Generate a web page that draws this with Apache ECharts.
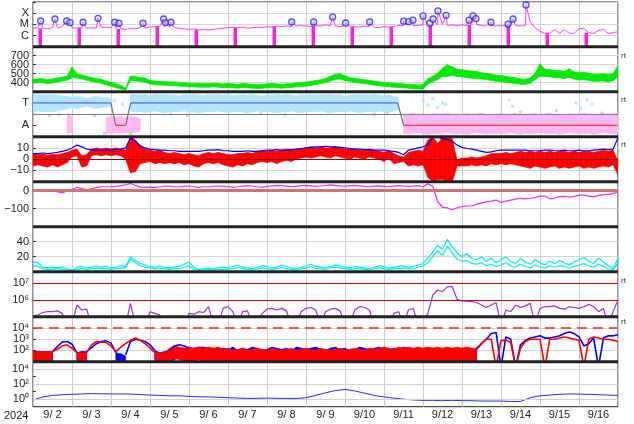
<!DOCTYPE html>
<html><head><meta charset="utf-8">
<script src="https://cdn.jsdelivr.net/npm/echarts@6/dist/echarts.min.js"></script>
<style>html,body{margin:0;padding:0;background:#fff}#c{width:634px;height:424px}</style>
</head><body><div id="c"></div><script>
const N = n => Array(n).fill(null);
// sampling times (hours since 2024-09-02 00UT)
const H3 = Array.from({length:121},(_,i)=>i*3);
const H6 = Array.from({length:61},(_,i)=>i*6);
const dayLabels = ['9/ 2','9/ 3','9/ 4','9/ 5','9/ 6','9/ 7','9/ 8','9/ 9','9/10','9/11','9/12','9/13','9/14','9/15','9/16'];

// Panel 1: X-ray flux (log10 W/m2), background every 3h
const xrayBgLog = [-5.35,-5.3,-5.35,-5.4,-5.3,-5.35,-5.2,-5.1,
-5.3,-5.35,-5.3,-5.35,-5.3,-5.35,-5.3,-5.25,
-5.3,-5.35,-5.4,-5.45,-5.35,-5.4,-5.3,-5.35,
-5.25,-5.2,-5.15,-5.2,-5.25,-5.3,-5.35,-5.4,
-5.45,-5.4,-5.5,-5.45,-5.5,-5.45,-5.4,-5.35,
-5.3,-5.25,-5.3,-5.25,-5.35,-5.3,-5.25,-5.3,
-5.2,-5.25,-5.15,-5.2,-5.15,-5.2,-5.15,-5.1,
-5.15,-5.2,-5.1,-5.15,-5.05,-5.1,-5.15,-5.2,
-5.1,-5.15,-5.2,-5.25,-5.15,-5.2,-5.25,-5.3,
-5.2,-5.25,-5.2,-5.1,-5.15,-5.05,-5.1,-5.1,
-5.05,-5.0,-5.1,-5.05,-5.0,-5.1,-5.05,-5.1,
-5.05,-5.1,-5.05,-5.0,-5.1,-5.15,-5.1,-5.15,
-5.1,-5.15,-5.05,-5.1,-5.15,-5.1,-4.8,-5.3,
-5.63,-5.8,-5.8,-5.45,-5.8,-5.45,-5.8,-5.8,
-5.4,-5.35,-5.75,-5.8,-5.55,-5.45,-5.8,-5.75,-5.65];
const flareHours = [4.7,13.5,20.7,22.8,30.8,40.0,50.3,52.9,67.7,80.4,81.5,84.9,159.2,172.7,184.4,192.4,207.2,228.1,231.2,233.8,240.0,244.1,246.2,249.2,254.2,268.3,270.8,272.6,281.8,292.3,295.4,303.4];
const flareLog = [-4.70,-4.52,-4.70,-4.85,-4.81,-4.46,-4.81,-4.90,-4.90,-4.52,-4.85,-4.81,-4.79,-4.79,-4.34,-4.88,-4.79,-4.72,-4.76,-4.63,-4.25,-4.90,-4.52,-3.80,-4.19,-4.63,-4.25,-4.49,-4.81,-4.99,-4.52,-3.27];
const eclipseHours = [4.5,28.5,52.5,76.5,100.5,124.5,148.5,172.5,196.5,220.5,244.5,268.5,292.5,316.5,340.5];

// Panel 2: solar wind speed envelope (km/s), 3h
const windLo = [393,400,400,388,398,408,418,428,455,452,443,428,413,403,393,376,360,343,330,318,
425,420,412,405,
385,380,375,372,368,368,362,360,355,355,350,350,350,355,350,
343,348,343,338,348,343,338,333,338,343,348,343,338,343,348,353,358,363,370,380,390,400,418,435,440,425,413,403,396,390,383,373,366,360,356,350,348,343,338,333,330,
330,385,410,435,470,470,480,470,465,455,450,445,440,435,425,415,410,405,398,390,382,382,395,435,470,470,465,455,455,445,460,440,430,435,425,415,415,420,410,420,470];
const windHi = [437,444,444,432,442,452,462,472,575,498,487,472,457,447,437,420,404,387,370,342,
475,470,458,451,
425,420,415,412,408,408,402,400,395,395,390,390,390,395,390,
387,392,387,382,392,387,382,377,382,387,392,387,382,387,392,397,402,407,414,424,434,444,472,495,500,475,457,447,440,434,427,417,410,404,400,394,392,387,382,377,374,
380,445,470,505,560,600,575,550,545,535,530,525,510,505,495,485,480,470,462,454,442,438,455,505,610,550,545,535,535,525,555,520,510,515,505,495,495,500,490,500,590];

// Panel 3: IMF sector (A=1, T=3)
const towardLo = [2.2,2.3,2.2,2.25,2.2,2.3,2.4,2.5, 2.6,2.5,2.6,2.7,2.6,2.5,2.6,2.6, 2.7, null,null,null,
2.3,2.2,2.25,2.15,2.2,2.3,2.2,2.1, 2.2,2.25,2.2,2.3,2.15,2.2,2.1,2.2, 2.25,2.2,2.3,2.2,2.15,2.2,2.25,2.2, 2.1,2.2,2.3,2.2,2.25,2.2,2.15,2.2, 2.2,2.3,2.2,2.15,2.2,2.25,2.2,2.3, 2.2,2.1,2.2,2.25,2.2,2.3,2.2,2.15, 2.2,2.25,2.2,2.3,2.2,2.2,2.3,2.4,
...N(45)];
const towardHi = [3.75,3.7,3.75,3.7,3.75,3.7,3.6,3.6, 3.5,3.6,3.5,3.4,3.5,3.6,3.5,3.5, 3.4, null,null,null,
3.7,3.75,3.7,3.75,3.65,3.75,3.7,3.75, 3.7,3.75,3.6,3.75,3.7,3.75,3.7,3.65, 3.75,3.7,3.75,3.7,3.75,3.65,3.7,3.75, 3.7,3.75,3.7,3.6,3.75,3.7,3.75,3.7, 3.75,3.7,3.65,3.75,3.7,3.75,3.7,3.75, 3.7,3.75,3.7,3.75,3.6,3.7,3.75,3.7, 3.75,3.7,3.75,3.7,3.65,3.7,3.6,3.5,
...N(45)];
const awayLo = [...N(7), 0.3,0.4, ...N(6), 0.3,0.3,0.4,0.3,0.35,0.3,0.4,0.5, ...N(53),
0.3,0.25,0.3,0.35,0.3,0.2,0.3,0.25,0.3,0.35, 0.3,0.25,0.3,0.2,0.3,0.35,0.3,0.25,0.3,0.3, 0.25,0.3,0.35,0.3,0.2,0.3,0.25,0.3,0.35,0.3, 0.25,0.3,0.2,0.3,0.35,0.3,0.25,0.3,0.3,0.2, 0.3,0.35,0.3,0.25,0.3];
const awayHi = [...N(7), 1.7,1.8, ...N(6), 1.7,1.8,1.75,1.8,1.7,1.8,1.75,1.6, ...N(53),
2.0,1.9,2.1,1.95,2.0,1.9,2.05,1.95,2.0,2.1, 1.9,2.0,1.95,2.05,1.9,2.0,2.1,1.95,2.0,1.9, 2.05,1.95,2.0,2.1,1.9,2.0,1.95,2.05,1.9,2.0, 2.1,1.95,2.0,1.9,2.05,1.95,2.0,2.1,1.9,2.0, 1.95,2.05,1.9,2.0,2.1];
const towardDotH = [50,55,240,243,246,249,252,254,293,295,334,337,341,344];
const towardDotV = [3.2,2.9,3.2,2.8,3.4,2.6,3.0,2.9,3.3,2.7,3.0,2.5,3.3,2.9];
const greyDotH = [10,16,22,38,44,60,85,95,140,155,210,218,300,322,350,392,520,555,560];
const greyDotV = [1.9,1.95,1.85,1.9,0.3,0.25,2.0,1.9,2.05,1.95,2.0,2.1,2.2,2.3,2.1,1.9,2.7,3.5,3.7];
const sectorHours = [0,47.9,50.9,57.0,60.1,224.4,228.1,360];
const sectorSide = ['T','T','A','A','T','T','A','A'];

// Panel 4: IMF Bt and Bz (nT)
const btNT = [5,5,5.5,5,5.5,6,7,8,10,12.5,11,9,8.5,8,8,8,8,8.5,9,10,
19,16,12,10,9,8.5,8,8,7.5,7.5,7,7,7,7,7,7.5,8,8,8.5,
7.5,7.5,7,7,7,7.5,7,7,7.5,8,8,8.5,8,8,8.5,9,9.5,
10,10.5,11,11,11.5,11,11,10.5,
10,9.5,9,9,8.5,8.5,8,8,8,7.5,7,6,
4,8,9,10,11,13,19,19.5,18,17.5,16,12.5,10.5,9.5,9,8,7,6,6.5,7.5,8,8,8,8,8,8,7.5,7.5,7.5,8,8,7.5,7.5,8,7.5,7.5,8,7.5,7.5,8,8.5,9,8.5,9,19];
const bzLo = [-6,-5,-6,-7,-5,-7,-5,-3,2,3,-7,-6,3,4,3,4,3,4,3,0,
-12,-11,-4,-3,-2,-4,-3,-4,-3,-4,-3,-5,-4,-6,-7,-4,-3,-4,-3,
-5,-6,-7,-5,-6,-4,-5,-3,-2,-3,-2,-4,-2,-1,-2,0,1,
2,1,2,3,2,1,3,2,
1,0,2,1,0,2,1,0,-2,1,-4,-3,
-2,-6,-5,-6,-5,-16,-20,-18,-18,-20,-20,-6,-6,-6,-5,-6,-5,-6,-4,-5,-4,-5,-4,-5,-6,-7,-8,-6,-7,-8,-7,-6,-8,-7,-8,-7,-6,-8,-7,-8,-7,-6,-7,-5,-14];
const bzHi = [4.5,4,4.5,3.5,4.5,4,5,6,8,9,3,4,9,10,9,10,9,10,9,8,
20,17,12,9,8,7,8,6,5,6,5,4,5,4,3,5,6,5,6,
5,4,4,5,5,6,5,7,8,7,8,7,8,9,8,9,9,
10,11,10,11,10,10,11,10,
9,9,9,8,8,9,8,7,6,8,5,3,
2,6,7,8,7,17,20,14,19,20,18,-1,1,1,2,1,2,3,5,5,5,6,5,6,7,6,7,6,7,6,7,6,7,7,6,7,6,7,7,6,7,8,7,8,-2];

// Panel 5: Dst (nT)
const dstNT = [-5,-2,0,2,3,-5,-12,-2,8,18,12,6,10,18,22,22,22,24,28,32,40,30,20,19,20,19,22,26,24,22,22,24,26,22,19,22,22,24,26,
24,22,20,22,25,28,26,22,20,24,27,30,28,25,22,24,28,30,27,24,26,29,32,30,27,25,28,30,27,24,22,25,27,24,22,25,28,26,24,25,28,
22,38,25,-60,-92,-95,-107,-95,-88,-85,-85,-75,-68,-62,-58,-52,-65,-58,-52,-47,-42,-45,-42,-38,-30,-30,-45,-42,-33,-32,-35,-32,-25,-24,-30,-34,-26,-22,-20,-16,-6];

// Panel 6: two density traces
const densA = [13,12,6,5,6,5,6,4,2,6,7,5,6,8,6,7,5,6,8,7,20,15,11,9,7,6,8,6,5,6,7,10,13,6,3,4,5,4,5,
6,5,7,9,6,5,4,6,8,7,5,6,9,7,5,4,6,8,10,7,6,5,7,9,8,6,5,7,6,5,4,6,8,7,5,6,7,8,6,7,9,
11,18,26,35,30,43,33,25,20,24,18,16,20,14,18,12,16,20,14,11,18,13,10,16,12,9,14,11,15,12,9,13,16,19,14,11,18,13,8,4,18];
const densB = [8,7,4,3,3,4,3,2,1.5,3,4,3,4,5,4,4,3,4,5,5,17,12,8,6,5,4,5,4,3,4,4,6,8,3,2,2,3,2,3,
3,3,4,6,4,3,2,4,5,4,3,4,6,4,3,2,4,5,7,4,4,3,5,6,5,4,3,4,4,3,2,4,5,4,3,4,4,5,4,4,6,
8,12,20,28,22,34,25,16,14,15,11,10,12,8,10,7,9,12,8,6,10,7,5,9,6,5,8,6,8,7,5,7,9,11,8,6,10,7,4,2,12];

// Panel 7: electron flux (log10), 4.5 = no data / below scale
const elecLog = [5.05,5.1,5.25,5.3,5.3,5.35,5.2,4.5,4.5,5.7,5.4,5.45,4.5,4.5,4.5,4.5,4.5,4.5,4.5,4.5,5.8,4.5,4.5,4.5,5.3,5.2,5.1,4.5,4.5,4.5,4.5,4.5,5.2,5.15,5.3,5.25,5.6,4.5,4.5,
5.5,5.6,5.3,4.5,5.3,5.35,4.5,4.5,5.2,5.45,5.5,5.4,5.5,5.35,4.5,4.5,5.3,5.5,5.55,5.4,4.5,5.3,5.45,5.5,5.35,4.5,4.5,5.4,5.6,5.55,5.4,4.5,4.5,4.5,4.5,5.2,5.3,4.5,5.4,5.5,4.5,
4.5,5.2,6.3,6.6,6.5,6.8,6.8,6.05,5.95,5.93,5.9,5.85,5.7,5.55,5.7,5.85,4.5,5.4,5.3,5.7,5.55,5.65,5.8,4.5,5.5,5.6,5.6,5.65,5.5,5.45,5.6,5.55,5.5,5.6,5.75,5.6,5.3,5.5,4.5,5.3,6.0];

// Panel 8: proton flux (log10): background noise envelopes + smooth traces
const pBlueNoiseHi = [1.9,1.9,1.9,1.9,1.9, null,null,null,null, 1.8,1.9,1.9, null,null,null,null,null, 1.8,1.7,1.5, null,null,null,null,null, 2.0,1.8,1.9,
2.0,2.2,2.2,2.2,2.1,2.2,2.3,2.3,2.2,2.2,2.1,
2.2,2.1,2.3,2.0,2.2,2.1,2.3,2.2,2.0,2.1,2.3,2.2,2.1,2.2,2.0,2.3,2.2,2.1,2.2,2.3,2.1,2.0,2.2,2.3,2.1,2.2,2.0,2.1,2.3,2.2,2.1,2.2,2.3,2.1,2.0,2.2,2.1,2.3,2.2,2.1,2.2,
2.1,2.0,2.2,2.1,2.0,2.1,2.2,2.0,2.1,2.1,2.0,2.1, ...N(29)];
const pBlueNoiseLo = [0.5,0.5,0.5,0.5,0.5, null,null,null,null, 0.5,0.5,0.5, null,null,null,null,null, 0.5,0.5,0.5, null,null,null,null,null, 0.8,0.5,0.5,
0.8,1.2,1.3,1.2,1.0,1.1,1.2,1.2,1.1,1.0,0.9,
1.0,0.8,1.1,0.5,1.0,0.9,1.2,1.0,0.5,0.9,1.1,1.0,0.8,1.0,0.5,1.1,1.0,0.9,1.0,1.2,0.9,0.5,1.0,1.1,0.8,1.0,0.5,0.9,1.1,1.0,0.9,1.0,1.1,0.8,0.5,1.0,0.9,1.1,1.0,0.8,0.9,
0.5,0.5,0.8,0.5,0.5,0.7,0.8,0.5,0.6,0.5,0.5,0.6, ...N(29)];
const pRedNoiseHi = [1.9,1.9,1.9,1.9,1.9, null,null,null,null, 1.8,1.8,1.8, null,null,null,null,null, 1.9, null,null,null,null,null,null,null, 1.8,1.8,1.8,
2.2,2.4,2.3,2.2,2.3,2.2,2.3,2.2,2.3,2.2,2.3,
2.1,2.2,2.0,2.1,2.2,2.0,2.1,2.2,2.1,2.0,2.2,2.1,2.0,2.1,2.2,2.0,2.1,2.2,2.1,2.0,2.2,2.1,2.0,2.1,2.2,2.0,2.1,2.2,2.1,2.0,2.2,2.1,2.2,2.3,2.2,2.1,2.3,2.2,2.3,2.2,2.3,
2.2,2.3,2.2,2.3,2.2,2.3,2.2,2.3,2.2,2.3,2.2,2.2, ...N(29)];
const pRedNoiseLo = [0.5,0.5,0.5,0.5,0.5, null,null,null,null, 0.5,0.5,0.5, null,null,null,null,null, 0.5, null,null,null,null,null,null,null, 0.5,0.5,0.5,
1.0,1.3,1.2,1.0,1.1,1.0,1.2,1.0,1.1,0.9,1.0,
0.6,0.5,0.7,0.5,0.6,0.5,0.7,0.6,0.5,0.6,0.5,0.7,0.6,0.5,0.6,0.5,0.7,0.6,0.5,0.6,0.5,0.7,0.6,0.5,0.6,0.5,0.7,0.6,0.5,0.6,0.5,0.7,0.8,0.9,0.8,0.7,0.9,0.8,0.9,0.8,0.9,
0.8,0.9,0.8,0.9,0.8,0.9,0.7,0.8,0.6,0.7,0.6,0.6, ...N(29)];
const pBlueTrace = [null,null,null,null, 1.9,2.35,2.75,2.8,2.55,1.8, null, 1.9,2.25,2.6,2.8,2.85,2.65,1.8, null, 1.6,2.8,3.0,2.9,2.8,2.5,2.0, null,null, 2.0,2.4,2.5,2.4,2.2, ...N(6),
...N(52),
2.1,2.6,3.0,3.5,3.6,0.5,3.2,3.0,0.5,2.5,2.9,3.1,3.2,3.3,3.1,3.1,3.2,3.3,3.5,3.65,3.5,3.2,2.4,2.6,3.1,0.5,3.1,3.3,3.3,3.4];
const pRedTrace = [null,null,null,null, 1.9,2.1,2.4,2.5,2.2,1.8, null, 1.8,2.5,2.8,2.75,2.7,2.4,1.9,2.3,2.6,2.9,3.1,2.9,2.6,2.2,1.8, ...N(13),
...N(52),
2.2,2.6,3.0,3.0,0.5,2.9,2.9,2.7,0.5,2.2,2.8,3.0,3.0,3.0,0.5,3.0,3.0,3.1,3.2,3.1,3.0,2.9,0.5,3.0,3.2,3.1,3.0,3.0,2.9,2.8];

// Panel 9: (log10), 6h
const bottomLog = [-0.1,0.3,0.5,0.6,0.65,0.7,0.75,0.72,0.7,0.7,0.68,0.62,0.55,0.5,0.45,0.45,0.38,0.32,0.3,0.25,0.2,0.15,0.1,0.12,0.15,0.12,0.1,0.1,0.2,0.5,0.85,1.15,1.3,1.1,0.8,0.5,0.3,0.15,0.0,-0.1,-0.15,-0.15,-0.2,-0.15,-0.2,-0.2,-0.25,-0.25,-0.25,-0.3,-0.3,0.2,0.45,0.55,0.65,0.7,0.68,0.65,0.6,0.55,0.5];

// ---------- layout ----------
const tops = [2,46.7,91.7,136.7,181.7,226.7,271.7,316.7,361.7];
const hts = [44.7,45,45,45,45,45,45,45,45];
const FONT = 'Liberation Sans, Arial, sans-serif';
const grids = tops.map((t,k)=>({left:33,right:16,top:t,height:hts[k],show:true,borderColor:'#222',borderWidth:1,backgroundColor:'transparent'}));
const xAxes = tops.map((t,k)=>({type:'value',gridIndex:k,min:0,max:360,interval:24,axisLabel:{show:false},axisTick:{show:false},axisLine:{show:false},splitLine:{show:true,lineStyle:{color:'#cdcdcd',width:1}}}));
xAxes.push({type:'category',gridIndex:8,position:'bottom',data:dayLabels,boundaryGap:true,axisLine:{show:false},axisTick:{show:false},splitLine:{show:false},axisLabel:{interval:0,fontSize:11,color:'#222',fontFamily:FONT,margin:3}});

const lab = f => ({fontSize:11,color:'#222',fontFamily:FONT,margin:4,formatter:f,showMinLabel:true,showMaxLabel:true});
const ySpec = [
 {min:-7,max:-3,interval:1,split:true,f:v=>({'-4':'X','-5':'M','-6':'C'})[String(v)]||''},
 {min:300,max:800,interval:100,split:true,f:v=>(v>=400&&v<=700)?String(v):''},
 {min:0,max:4,interval:1,split:false,f:v=>v===3?'T':(v===1?'A':'')},
 {min:-20,max:20,interval:10,split:true,f:v=>v===10?'10':(v===0?'0':(v===-10?'\u221210':''))},
 {min:-200,max:50,interval:100,split:true,f:v=>v===0?'0':(v===-100?'\u2212100':'')},
 {min:0,max:60,interval:20,split:true,f:v=>(v===20||v===40)?String(v):''},
 {min:5,max:7.7,interval:1,split:false,f:v=>v===6?'10\u2076':(v===7?'10\u2077':'')},
 {min:1,max:5,interval:1,split:true,f:v=>({2:'10\u00b2',3:'10\u00b3',4:'10\u2074'})[v]||''},
 {min:-1,max:5,interval:1,split:false,f:v=>({0:'10\u2070',2:'10\u00b2',4:'10\u2074'})[v]||''}
];
const yAxes = ySpec.map((s,k)=>({type:'value',gridIndex:k,min:s.min,max:s.max,interval:s.interval,
  axisLine:{show:false},axisTick:{show:true,inside:true,length:3,lineStyle:{color:'#333'}},
  splitLine:{show:s.split,lineStyle:{color:'#d6d6d6',width:1}},axisLabel:lab(s.f)}));
yAxes.push({type:'value',gridIndex:0,min:0,max:4,show:false}); // eclipse bars

const pair = (hs,vs)=>hs.map((h,i)=>[h, vs[i]]);
// envelope band drawn as quads between consecutive samples
function band(lo, hi, color, k, z, extra){
  const data=[];
  for(let i=0;i<H3.length-1;i++){
    if(lo[i]==null||hi[i]==null||lo[i+1]==null||hi[i+1]==null) continue;
    data.push([H3[i],lo[i],hi[i],H3[i+1],lo[i+1],hi[i+1]]);
  }
  return Object.assign({type:'custom',xAxisIndex:k,yAxisIndex:k,silent:true,z:z||2,clip:true,
    encode:{x:[0,3],y:[1,2,4,5]},
    renderItem:(params,api)=>{
      const cs=params.coordSys;
      const p1=api.coord([api.value(0),api.value(1)]), p2=api.coord([api.value(3),api.value(4)]),
            p3=api.coord([api.value(3),api.value(5)]), p4=api.coord([api.value(0),api.value(2)]);
      return {type:'polygon',shape:{points:[p1,p2,p3,p4]},style:{fill:color,stroke:color,lineWidth:0.7},
        clipPath:{type:'rect',shape:{x:cs.x,y:cs.y,width:cs.width,height:cs.height}}};
    },
    data}, extra||{});
}
const mark = (vals,style)=>({silent:true,symbol:'none',label:{show:false},lineStyle:Object.assign({opacity:1},style),data:vals.map(v=>({yAxis:v}))});

const series = [];
// Panel 1
const bgAt = h => xrayBgLog[Math.min(120,Math.round(h/3))];
series.push({type:'bar',xAxisIndex:0,yAxisIndex:9,barWidth:3.5,silent:true,z:2,itemStyle:{color:'#ff1ee0'},data:eclipseHours.map(h=>[h,bgAt(h)+7])});
const xrayPts = pair(H3,xrayBgLog).concat(pair(flareHours,flareLog)).sort((a,b)=>a[0]-b[0]);
series.push({type:'line',xAxisIndex:0,yAxisIndex:0,symbol:'none',z:3,lineStyle:{color:'#ff3cff',width:1},data:xrayPts});
series.push({type:'scatter',xAxisIndex:0,yAxisIndex:0,symbol:'circle',symbolSize:6,z:4,itemStyle:{color:'rgba(200,200,255,0.6)',borderColor:'#2a2aff',borderWidth:1.3},data:pair(flareHours,flareLog)});
// Panel 2
series.push(band(windLo,windHi,'#00ea00',1));
// Panel 3
series.push(band(awayLo,awayHi,'#ffb8f3',2));
series.push(band(towardLo,towardHi,'#b0e6fc',2));
series.push({type:'scatter',xAxisIndex:2,yAxisIndex:2,symbol:'rect',symbolSize:3,z:2,itemStyle:{color:'#c8c8c8'},data:pair(greyDotH,greyDotV)});
series.push({type:'scatter',xAxisIndex:2,yAxisIndex:2,symbol:'rect',symbolSize:3,z:2,itemStyle:{color:'#a8e2fb'},data:pair(towardDotH,towardDotV)});
const lev = s => s==='T'?3:1;
for(let i=0;i<sectorHours.length-1;i++){
  const s0=sectorSide[i], s1=sectorSide[i+1];
  const col = s0!==s1 ? '#5d7d5d' : (s0==='T' ? '#5c5cff' : '#ff3a3a');
  const ser = {type:'line',xAxisIndex:2,yAxisIndex:2,symbol:'none',z:4,lineStyle:{color:col,width:1.2},
    data:[[sectorHours[i],lev(s0)],[sectorHours[i+1],lev(s1)]]};
  if(i===0) ser.markLine = mark([2],{color:'#7c7c7c',width:1,type:'solid'});
  series.push(ser);
}
// Panel 4
series.push(band(bzLo,bzHi,'#ff0000',3));
series.push({type:'line',xAxisIndex:3,yAxisIndex:3,symbol:'none',z:4,lineStyle:{color:'#0000ff',width:1.2},data:pair(H3,btNT),
  markLine:mark([0],{color:'#990000',width:1.2,type:'solid'})});
// Panel 5
series.push({type:'line',xAxisIndex:4,yAxisIndex:4,symbol:'none',z:4,lineStyle:{color:'#ee2cee',width:1.2},data:pair(H3,dstNT),
  markLine:mark([0],{color:'#cd7474',width:3,type:'solid'})});
// Panel 6
series.push({type:'line',xAxisIndex:5,yAxisIndex:5,symbol:'none',z:3,lineStyle:{color:'#00eeee',width:1.2},data:pair(H3,densA)});
series.push({type:'line',xAxisIndex:5,yAxisIndex:5,symbol:'none',z:3,lineStyle:{color:'#00eeee',width:1.2},data:pair(H3,densB)});
// Panel 7
series.push({type:'line',xAxisIndex:6,yAxisIndex:6,symbol:'none',z:3,lineStyle:{color:'#a032d8',width:1.2},data:pair(H3,elecLog),
  markLine:mark([6,7],{color:'#c40000',width:1,type:'solid'})});
// Panel 8
series.push(band(pBlueNoiseLo,pBlueNoiseHi,'#0000ff',7,2));
series.push(band(pRedNoiseLo,pRedNoiseHi,'#ff0000',7,3));
series.push({type:'line',xAxisIndex:7,yAxisIndex:7,symbol:'none',z:4,lineStyle:{color:'#0000ff',width:1.6},data:pair(H3,pBlueTrace)});
series.push({type:'line',xAxisIndex:7,yAxisIndex:7,symbol:'none',z:4,lineStyle:{color:'#ff0000',width:1.6},data:pair(H3,pRedTrace)});
series.push({type:'line',xAxisIndex:7,yAxisIndex:7,symbol:'none',z:5,lineStyle:{opacity:0},data:[[0,1],[360,1]],
  markLine:mark([4],{color:'#e33030',width:1.5,type:[10,6]})});
// Panel 9
series.push({type:'line',xAxisIndex:8,yAxisIndex:8,symbol:'none',z:3,lineStyle:{color:'#2a2aff',width:1},data:pair(H6,bottomLog),
  markLine:mark([0,2,4],{color:'#d2d2d2',width:1,type:'solid'})});

// separators and side texts
const graphics = [];
for(let k=1;k<tops.length;k++){
  graphics.push({type:'line',z:100,silent:true,shape:{x1:33,y1:tops[k],x2:618,y2:tops[k]},style:{stroke:'#222',lineWidth:3}});
}
graphics.push({type:'text',left:4,top:410,z:100,style:{text:'2024',fontSize:11,fill:'#222',fontFamily:FONT}});
[57,101,146,282,323].forEach(y=>graphics.push({type:'text',left:621,top:y-5,z:100,style:{text:'rt',fontSize:8,fill:'#333',fontFamily:FONT}}));

const chart = echarts.init(document.getElementById('c'),null,{renderer:'canvas'});
chart.setOption({animation:false,backgroundColor:'#fff',grid:grids,xAxis:xAxes,yAxis:yAxes,series:series,graphic:graphics});
</script></body></html>
